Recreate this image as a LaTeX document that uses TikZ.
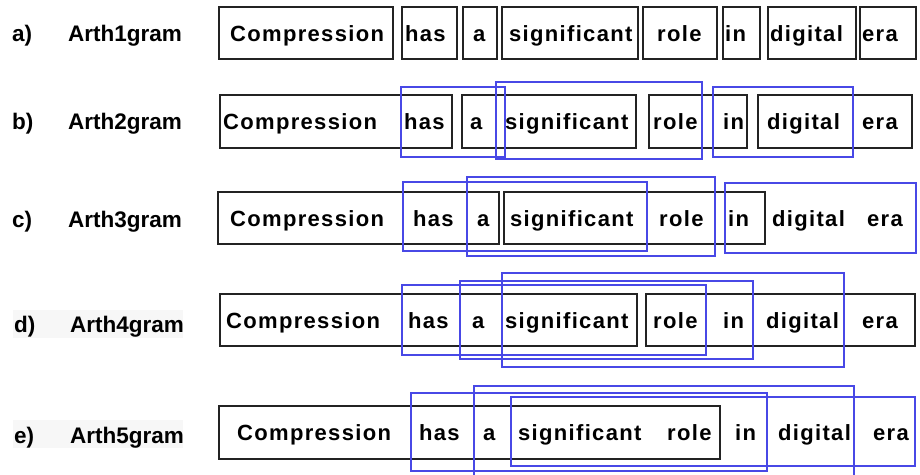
\documentclass[tikz,border=0pt]{standalone}
\usepackage{fontspec}
\setmainfont{Liberation Sans}
\newfontfamily\wordfont{Liberation Sans}[LetterSpace=6]
\definecolor{boxblue}{RGB}{72,72,230}
\definecolor{boxblack}{RGB}{35,35,35}
\tikzset{
  word/.style={anchor=base west, inner sep=0pt, font=\fontsize{22}{26}\selectfont\wordfont\bfseries},
  rowlabel/.style={anchor=base west, inner sep=0pt, font=\fontsize{22.5}{26}\selectfont\bfseries},
  blackbox/.style={draw=boxblack, line width=1.8pt},
  bluebox/.style={draw=boxblue, line width=1.5pt},
  labelband/.style={fill=black!3, draw=none}
}
\begin{document}
\begin{tikzpicture}[x=1pt,y=-1pt]
\useasboundingbox (0,0) rectangle (920,474);
\clip (0,0) rectangle (920,474);
\fill[white] (0,0) rectangle (920,474);

% light bands behind labels d and e
\path[labelband] (13,310) rectangle (183,338);
\path[labelband] (13,420) rectangle (183,448);

% row labels
\node[rowlabel] (la) at (12,41) {a)};
\node[rowlabel] (na) at (68,41) {Arth1gram};
\node[rowlabel] (lb) at (12,129.5) {b)};
\node[rowlabel] (nb) at (68,129.5) {Arth2gram};
\node[rowlabel] (lc) at (12,227) {c)};
\node[rowlabel] (nc) at (68,227) {Arth3gram};
\node[rowlabel] (ld) at (14,332) {d)};
\node[rowlabel] (nd) at (70,332) {Arth4gram};
\node[rowlabel] (le) at (14,443) {e)};
\node[rowlabel] (ne) at (70,443) {Arth5gram};

% words
\foreach \w/\x [count=\i] in {Compression/230,has/405,a/473,significant/509,role/657,in/725,digital/770,era/862}
  \node[word] (a\i) at (\x,41) {\w};
\foreach \w/\x [count=\i] in {Compression/223,has/404,a/470,significant/505,role/653,in/723,digital/767,era/862}
  \node[word] (b\i) at (\x,129.5) {\w};
\foreach \w/\x [count=\i] in {Compression/230,has/413,a/477,significant/510,role/659,in/728,digital/772,era/867}
  \node[word] (c\i) at (\x,226) {\w};
\foreach \w/\x [count=\i] in {Compression/226,has/408,a/472,significant/505,role/653,in/723,digital/766,era/862}
  \node[word] (d\i) at (\x,328) {\w};
\foreach \w/\x [count=\i] in {Compression/237,has/419,a/483,significant/518,role/667,in/735,digital/778,era/873}
  \node[word] (e\i) at (\x,440.5) {\w};

% row a: unigram boxes
\foreach \xa/\xb in {219/393,402/457,463/497,502/638,643/717,723/760,768/856,860/916}
  \draw[blackbox] (\xa,7) rectangle (\xb,59);

% row b: bigrams
\foreach \xa/\xb in {220/452,462/636,649/747,758/912}
  \draw[blackbox] (\xa,95) rectangle (\xb,148);
\draw[bluebox] (401,87) rectangle (505,157);
\draw[bluebox] (496,82) rectangle (702,159);
\draw[bluebox] (713,87) rectangle (853,157);

% row c: trigrams
\draw[blackbox] (218,192) rectangle (499,244);
\draw[blackbox] (504,192) rectangle (765,244);
\draw[bluebox] (403,182) rectangle (647,251);
\draw[bluebox] (467,177) rectangle (715,256);
\draw[bluebox] (725,183) rectangle (916,253);

% row d: 4-grams
\draw[blackbox] (220,294) rectangle (637,346);
\draw[blackbox] (646,294) rectangle (915,346);
\draw[bluebox] (402,285) rectangle (706,355);
\draw[bluebox] (460,281) rectangle (753,359);
\draw[bluebox] (502,273) rectangle (844,367);

% row e: 5-grams
\draw[blackbox] (219,406) rectangle (720,459);
\draw[bluebox] (411,393) rectangle (767,471);
\draw[bluebox] (474,386) rectangle (854,484);
\draw[bluebox] (511,397) rectangle (915,466);
\end{tikzpicture}
\end{document}
